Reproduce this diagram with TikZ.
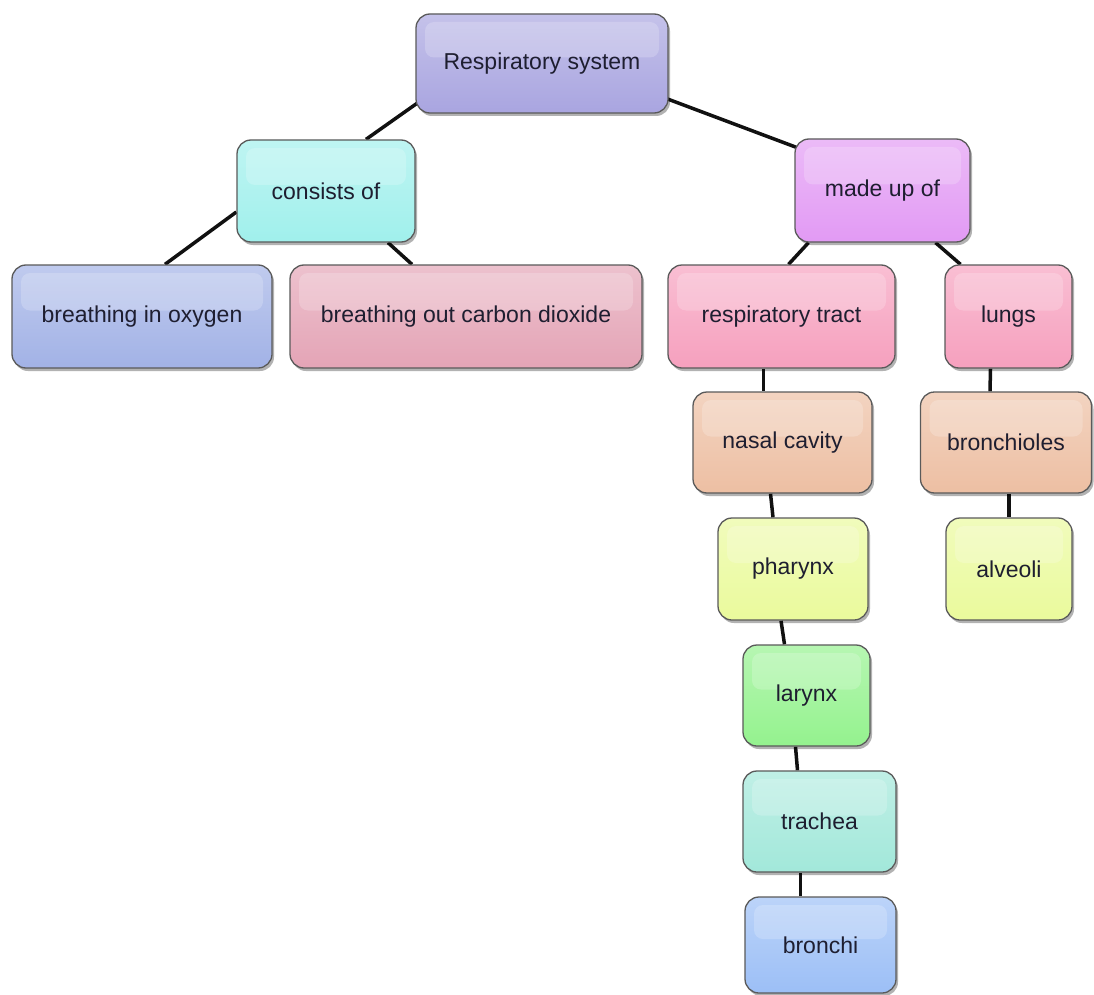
\documentclass[tikz,border=0pt]{standalone}
\usepackage{fontspec}
\setmainfont{Liberation Sans}
\usetikzlibrary{shadows,calc,backgrounds}
\definecolor{boxedge}{HTML}{5A5A5A}
\definecolor{textcol}{HTML}{1E1E30}
\definecolor{linecol}{HTML}{111111}
\definecolor{crs}{HTML}{A9A5E0}
\definecolor{ccons}{HTML}{A0F0EC}
\definecolor{cmade}{HTML}{E29AF4}
\definecolor{cbio}{HTML}{A2B2E6}
\definecolor{cbocd}{HTML}{E4A4B6}
\definecolor{cpink}{HTML}{F6A0BE}
\definecolor{cnasal}{HTML}{EDBFA3}
\definecolor{cphar}{HTML}{EAFA9C}
\definecolor{clar}{HTML}{94F28E}
\definecolor{ctra}{HTML}{A2E8DA}
\definecolor{cbro}{HTML}{9CBFF6}
\tikzset{
  box/.style={draw=boxedge, line width=1.3pt, rounded corners=14pt,
    top color=#1!68!white, bottom color=#1,
    font=\fontsize{23}{27}\selectfont, text=textcol, inner sep=0pt,
    drop shadow={shadow xshift=2pt, shadow yshift=-3pt, opacity=.3, fill=black},
    path picture={\fill[white,opacity=.2,rounded corners=9pt]
      ([shift={(9pt,-8pt)}]path picture bounding box.north west) rectangle
      ([shift={(-9pt,6pt)}]path picture bounding box.east);}},
  link/.style={line width=3.5pt, draw=linecol}
}
\begin{document}
\begin{tikzpicture}[x=1pt,y=-1pt]
\useasboundingbox (0,0) rectangle (1094,995);
\node[box=crs, minimum width=252pt, minimum height=99pt] (rs) at (542,63.5) {Respiratory system};
\node[box=ccons, minimum width=178pt, minimum height=102pt] (cons) at (326,191) {consists of};
\node[box=cmade, minimum width=175pt, minimum height=103pt] (made) at (882.5,190.5) {made up of};
\node[box=cbio, minimum width=260pt, minimum height=103pt] (bio) at (142,316.5) {breathing in oxygen};
\node[box=cbocd, minimum width=352pt, minimum height=103pt] (bocd) at (466,316.5) {breathing out carbon dioxide};
\node[box=cpink, minimum width=227pt, minimum height=103pt] (rt) at (781.5,316.5) {respiratory tract};
\node[box=cpink, minimum width=127pt, minimum height=103pt] (lungs) at (1008.5,316.5) {lungs};
\node[box=cnasal, minimum width=179pt, minimum height=101pt] (nasal) at (782.5,442.5) {nasal cavity};
\node[box=cnasal, minimum width=171pt, minimum height=101pt] (bchl) at (1006,442.5) {bronchioles};
\node[box=cphar, minimum width=150pt, minimum height=102pt] (phar) at (793,569) {pharynx};
\node[box=cphar, minimum width=126pt, minimum height=102pt] (alv) at (1009,569) {alveoli};
\node[box=clar, minimum width=127pt, minimum height=101pt] (lar) at (806.5,695.5) {larynx};
\node[box=ctra, minimum width=153pt, minimum height=101pt] (tra) at (819.5,821.5) {trachea};
\node[box=cbro, minimum width=151pt, minimum height=96pt] (bro) at (820.5,945) {bronchi};
\begin{scope}[on background layer]
\fill[white] (0,0) rectangle (1094,995);
\draw[link] ($(rs.south west)+(4,-12)$) -- ($(cons.north)+(40,0)$);
\draw[link] ($(rs.south east)+(-2,-15)$) -- ($(made.north west)+(2,9)$);
\draw[link] ($(cons.west)+(0,21)$) -- ($(bio.north)+(23,0)$);
\draw[link] ($(cons.south)+(62,0)$) -- ($(bocd.north)+(-54,0)$);
\draw[link] ($(made.south)+(-74,0)$) -- ($(rt.north)+(7,0)$);
\draw[link] ($(made.south)+(53,0)$) -- ($(lungs.north)+(-48,0)$);
\draw[link] ($(rt.south)+(-18,0)$) -- ($(nasal.north)+(-19,0)$);
\draw[link] ($(nasal.south)+(-12,0)$) -- ($(phar.north)+(-20,0)$);
\draw[link] ($(phar.south)+(-12,0)$) -- ($(lar.north)+(-22,0)$);
\draw[link] ($(lar.south)+(-11,0)$) -- ($(tra.north)+(-22,0)$);
\draw[link] ($(tra.south)+(-19,0)$) -- ($(bro.north)+(-20,0)$);
\draw[link] ($(lungs.south)+(-18,0)$) -- ($(bchl.north)+(-16,0)$);
\draw[link] ($(bchl.south)+(3,0)$) -- ($(alv.north)+(0,0)$);
\end{scope}
\end{tikzpicture}
\end{document}
